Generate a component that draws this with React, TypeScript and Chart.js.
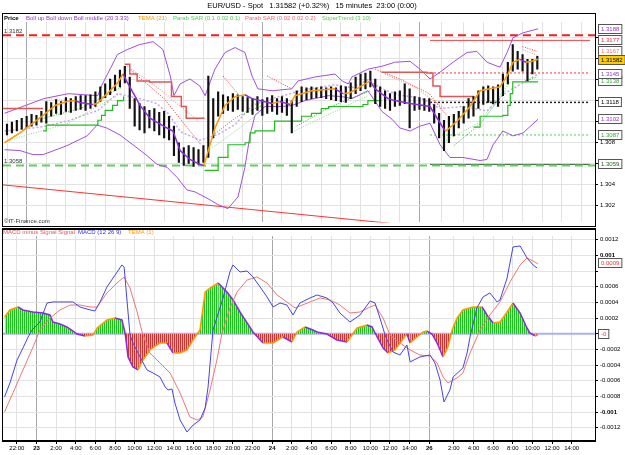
import React, { useEffect, useRef } from "react";
import { Chart, registerables } from "chart.js";
Chart.register(...registerables);

const FONT = '"Liberation Sans", Arial, sans-serif';
const X_MIN = -1.63;
const X_MAX = 239.5;
const TOP_MIN = 1.30038;
const TOP_MAX = 1.31945;
const BOT_MIN = -0.00137;
const BOT_MAX = 0.001247;

const TITLE = "EUR/USD - Spot   1.31582 (+0.32%)   15 minutes  23:00 (0:00)";

// x axis (15-minute bar index)
const xTickPos = [4, 12, 20, 28, 36, 44, 52, 60, 68, 76, 84, 92, 100, 108, 116, 124, 132, 140, 148, 156, 164, 172, 182, 190, 198, 206, 214, 222, 230];
const xTickLabels = ["22:00", "23", "2:00", "4:00", "6:00", "8:00", "10:00", "12:00", "14:00", "16:00", "18:00", "20:00", "22:00", "24", "2:00", "4:00", "6:00", "8:00", "10:00", "12:00", "14:00", "26", "2:00", "4:00", "6:00", "8:00", "10:00", "12:00", "14:00"];
const dayTicks = [12, 108, 172];

const topTickVals = [1.302, 1.304, 1.306, 1.308, 1.31, 1.312, 1.314, 1.316, 1.318];
const topTickLabels = ["1.302", "1.304", "", "1.308", "", "", "", "", ""];
const botTickVals = [0.0012, 0.001, 0.0008, 0.0006, 0.0004, 0.0002, 0, -0.0002, -0.0004, -0.0006, -0.0008, -0.001, -0.0012];
const botTickLabels = ["0.0012", "0.001", "", "0.0006", "0.0004", "0.0002", "", "-0.0002", "-0.0004", "-0.0006", "-0.0008", "-0.001", "-0.0012"];

// price bars, one per 30 minutes (every 2nd 15-min index)
const barHigh = [
  1.30973, 1.30992, 1.3101, 1.31029, 1.31048, 1.31066, 1.31057, 1.31095, 1.31188, 1.31179,
  1.31207, 1.31188, 1.31225, 1.31216, 1.31235, 1.31244, 1.31244, 1.31253, 1.31281, 1.31328,
  1.31356, 1.31403, 1.3144, 1.31487, 1.31524, 1.31422, 1.31216, 1.31169, 1.31141, 1.31104,
  1.31122, 1.31085, 1.31095, 1.31048, 1.30954, 1.30796, 1.30749, 1.30768, 1.30749, 1.3073,
  1.30768, 1.31431, 1.31216, 1.31281, 1.31253, 1.31235, 1.31263, 1.31253, 1.31235, 1.31225,
  1.31216, 1.31235, 1.31207, 1.31225, 1.31244, 1.31216, 1.31235, 1.31216, 1.31197, 1.31291,
  1.31328, 1.31319, 1.31328, 1.31319, 1.31328, 1.31319, 1.31328, 1.31319, 1.31337, 1.31328,
  1.31365, 1.31422, 1.3145, 1.31459, 1.31478, 1.31403, 1.31328, 1.31291, 1.31263, 1.31281,
  1.31291, 1.31356, 1.31309, 1.31235, 1.31225, 1.31216, 1.31216, 1.3116, 1.31076, 1.3101,
  1.31048, 1.31066, 1.31095, 1.31141, 1.31216, 1.31235, 1.31291, 1.31328, 1.31337, 1.31328,
  1.31347, 1.3145, 1.31562, 1.3173, 1.31665, 1.31636, 1.3159, 1.3159, 1.31618,
];
const barLow = [
  1.3087, 1.30889, 1.30908, 1.30926, 1.30936, 1.30954, 1.30964, 1.30992, 1.30982, 1.31048,
  1.31076, 1.31066, 1.31095, 1.31085, 1.31104, 1.31113, 1.31104, 1.31122, 1.31141, 1.31188,
  1.31225, 1.31253, 1.31291, 1.31328, 1.31365, 1.31122, 1.30954, 1.30917, 1.30889, 1.30936,
  1.30908, 1.3087, 1.30843, 1.30824, 1.30674, 1.30609, 1.3058, 1.306, 1.30571, 1.3059,
  1.30609, 1.30656, 1.30843, 1.31048, 1.31076, 1.31104, 1.31095, 1.31113, 1.31095, 1.31085,
  1.31066, 1.31104, 1.31057, 1.31076, 1.31095, 1.31066, 1.31085, 1.31057, 1.30889, 1.31141,
  1.31188, 1.31207, 1.31216, 1.31225, 1.31225, 1.31216, 1.31207, 1.31197, 1.31188, 1.31179,
  1.31216, 1.31263, 1.31291, 1.31309, 1.31328, 1.31169, 1.31141, 1.31122, 1.31104, 1.31141,
  1.31151, 1.31169, 1.30936, 1.31104, 1.31113, 1.31104, 1.31095, 1.30982, 1.30843, 1.30721,
  1.30796, 1.30861, 1.30936, 1.30982, 1.31029, 1.31048, 1.31122, 1.3116, 1.31179, 1.31169,
  1.31141, 1.31244, 1.31356, 1.31478, 1.31496, 1.31478, 1.31384, 1.3145, 1.31496,
];

type P = [number, number];

const bollUp: P[] = [[-1, 1.31076], [15, 1.31216], [25, 1.31263], [37, 1.31244], [38.5, 1.31337], [45, 1.31636], [49, 1.31683], [54, 1.3173], [59.5, 1.31758], [63.5, 1.31683], [66.5, 1.31431], [68, 1.31244], [70.5, 1.31356], [74.5, 1.31403], [78.5, 1.31337], [80.7, 1.31244], [84.7, 1.31496], [88.8, 1.31655], [92.9, 1.31702], [96.9, 1.31655], [99.8, 1.31431], [102.2, 1.31309], [108, 1.31291], [116, 1.31309], [118.5, 1.31384], [125.5, 1.31422], [133.6, 1.3145], [136.5, 1.31384], [139, 1.31356], [140.5, 1.31422], [147, 1.31496], [152.7, 1.31524], [158, 1.31562], [164.2, 1.31571], [168.2, 1.31496], [172.3, 1.31403], [176.4, 1.31468], [181.7, 1.31562], [187.4, 1.31655], [191.4, 1.31665], [195.5, 1.31562], [200.8, 1.31515], [203.7, 1.31655], [206.1, 1.31795], [210.2, 1.31842], [216.3, 1.3188]];
const bollDown: P[] = [[-1, 1.3073], [5.3, 1.30721], [10.6, 1.30683], [14.7, 1.30683], [24.4, 1.30768], [32.6, 1.30861], [36.7, 1.30964], [40.7, 1.30936], [46, 1.3087], [51.3, 1.30777], [57, 1.30674], [61.1, 1.3059], [65.2, 1.30562], [69.2, 1.30468], [73.3, 1.30347], [76.6, 1.30328], [81.9, 1.30263], [86, 1.30207], [90, 1.30169], [94.1, 1.30281], [96.9, 1.30562], [99, 1.3087], [101, 1.31057], [105.1, 1.31141], [112, 1.31141], [116.1, 1.31151], [121.4, 1.31197], [130.8, 1.31244], [136.5, 1.31235], [140.5, 1.31216], [147, 1.31291], [152.7, 1.31095], [156.8, 1.3102], [160.1, 1.30936], [164.2, 1.30908], [168.2, 1.30954], [172.3, 1.30982], [176.4, 1.30777], [180.4, 1.30656], [185.7, 1.30656], [192.7, 1.30627], [195.5, 1.30637], [198, 1.30777], [202, 1.30908], [206.1, 1.30861], [210.2, 1.30889], [216.3, 1.3102]];
const bollMid: P[] = [[-1, 1.30907], [15, 1.3095], [25, 1.31006], [37, 1.31104], [45, 1.31263], [54, 1.31216], [61, 1.31169], [66, 1.31066], [70.5, 1.30903], [78.6, 1.30819], [86, 1.30875], [92.9, 1.30968], [99.8, 1.31151], [108, 1.31216], [121, 1.313], [133.6, 1.31347], [140.5, 1.31319], [147, 1.31394], [152.7, 1.31309], [160, 1.31249], [168.2, 1.31225], [176.4, 1.31122], [185.7, 1.31141], [195.5, 1.31099], [203.7, 1.31281], [210.2, 1.31365], [216.3, 1.3145]];
const tema: P[] = [[-1, 1.30796], [5.3, 1.30889], [10.6, 1.30982], [14.7, 1.31057], [19.6, 1.31151], [24.4, 1.31188], [27.7, 1.31197], [29.7, 1.31179], [35, 1.3116], [36.7, 1.31169], [40.7, 1.31263], [44.8, 1.31356], [47.3, 1.3145], [48.9, 1.31375], [54.2, 1.31151], [58.2, 1.31029], [65.2, 1.30936], [67.6, 1.30908], [70.5, 1.30721], [74.5, 1.30637], [78.6, 1.3059], [80.2, 1.3058], [84.7, 1.30936], [88.8, 1.31151], [92.9, 1.31235], [96.9, 1.31253], [99.8, 1.31216], [108, 1.31169], [111.2, 1.31188], [115.3, 1.3116], [117.3, 1.31244], [124.2, 1.31291], [133.6, 1.31309], [136.9, 1.31263], [139.7, 1.31272], [147.9, 1.31384], [149.9, 1.31309], [155.2, 1.31216], [158, 1.31197], [164.2, 1.31169], [172.3, 1.31141], [175.2, 1.31029], [178.4, 1.30908], [179.2, 1.30917], [183.3, 1.31001], [188.6, 1.31141], [192.7, 1.31291], [196.7, 1.31309], [200.8, 1.31328], [203.7, 1.31431], [206.1, 1.31562], [209, 1.3159], [211.4, 1.31562], [213.8, 1.31571], [216.3, 1.3159]];

const sarFastUp: P[][] = [
  [[15, 1.31029], [30, 1.31122], [47, 1.31328]],
  [[84, 1.3087], [94, 1.31048], [104, 1.31151]],
  [[118, 1.30954], [132, 1.31141], [148, 1.31291]],
  [[182, 1.30768], [193, 1.30982], [203, 1.31291]],
  [[211, 1.31384], [216, 1.31422]],
];
const sarSlowUp: P[][] = [
  [[0, 1.30814], [25, 1.30982], [46, 1.31263]],
  [[82, 1.30721], [92, 1.30889], [104, 1.31104]],
  [[117, 1.30908], [132, 1.31076], [147, 1.31244]],
  [[177, 1.30796], [192, 1.30982], [205, 1.31375]],
];
const sarFastDown: P[][] = [
  [[50, 1.31496], [64, 1.31216], [79, 1.30777]],
  [[88, 1.31431], [95, 1.31235]],
  [[106, 1.31431], [116, 1.31309]],
  [[150, 1.31496], [160, 1.31403], [172, 1.31263], [179, 1.31057]],
  [[210, 1.31711], [216, 1.31665]],
];
const sarSlowDown: P[][] = [
  [[17, 1.31216], [25, 1.31197]],
  [[49, 1.31524], [62, 1.31309], [78, 1.31001]],
  [[154, 1.3145], [166, 1.31328], [178, 1.31122]],
  [[210, 1.31683], [216, 1.31627]],
];
const superUp: P[][] = [
  [[14.7, 1.30908], [16, 1.30964], [36, 1.30964], [37, 1.3101], [38.5, 1.31057], [40, 1.31104], [43, 1.31151], [45, 1.31197], [47.5, 1.31235]],
  [[80.5, 1.30534], [86, 1.30656], [90, 1.30777], [97, 1.30796], [99, 1.30889], [101, 1.30908], [109, 1.31001], [120, 1.31048], [124, 1.31076], [128, 1.31122], [131, 1.31141], [145, 1.3116], [147, 1.31197], [152.5, 1.31197]],
  [[190, 1.30945], [192.7, 1.31048], [202, 1.31057], [204, 1.31151], [205, 1.31263], [206, 1.31375], [216.3, 1.31375]],
];
const superDown: P[][] = [
  [[-2, 1.31122], [14.7, 1.31122]],
  [[48, 1.31543], [50, 1.3145], [53, 1.31384], [58, 1.31375], [65, 1.31375], [67, 1.31235], [71, 1.31141], [73, 1.31029], [80.5, 1.31029]],
  [[152.5, 1.31468], [171, 1.31459], [173.5, 1.31337], [176.4, 1.31235], [190, 1.31216]],
];
const trendLine: P[] = [[-2, 1.30396], [160, 1.3002]];
const levelStart = 172.3;
const levelEnd = 237.5;

const macdLine: P[] = [[-1, -0.000808], [1.2, -0.000629], [4.1, -0.000336], [6.5, -0.000183], [8.6, -0.000042], [10.2, 0.000047], [13.4, 0.000149], [16.3, 0.000392], [18.7, 0.000405], [24.4, 0.000405], [26.9, 0.000405], [29.7, 0.000341], [33.8, 0.000303], [35.8, 0.00029], [37.9, 0.000405], [40.7, 0.000596], [43.2, 0.000711], [46.8, 0.000877], [47.7, 0.000851], [50.1, -0.000017], [51.3, -0.000119], [54.2, -0.000297], [57, -0.000463], [59.5, -0.000502], [62.3, -0.000553], [64.4, -0.00068], [65.6, -0.000719], [67.2, -0.000706], [68.4, -0.000885], [70.5, -0.001102], [73.3, -0.001255], [75.8, -0.001166], [78.6, -0.001102], [80.7, -0.000949], [81.9, -0.00068], [83.9, 0.000047], [88, 0.000456], [90.8, 0.000788], [92, 0.000877], [94.9, 0.000788], [97.8, 0.0008], [100.2, 0.000724], [103.1, 0.000596], [105.9, 0.000469], [108.4, 0.000341], [111.2, 0.000392], [114, 0.000366], [116.5, 0.000239], [119.3, 0.000392], [123.4, 0.000456], [126.3, 0.000494], [130.3, 0.000456], [132.8, 0.000392], [135.6, 0.000264], [139.7, 0.000149], [143.8, 0.000239], [147.9, 0.000417], [149.9, 0.000392], [151.9, 0.0002], [154, -0.000017], [154.8, -0.00008], [157.2, -0.000234], [160.1, -0.000272], [162.9, -0.000144], [164.2, -0.000361], [168.2, -0.000297], [172.3, -0.000272], [174.3, -0.000374], [176.4, -0.000591], [178, -0.000872], [180.4, -0.000719], [181.7, -0.000553], [185.7, -0.000438], [187.4, -0.000246], [188.6, -0.000042], [191.4, 0.000328], [193.9, 0.000469], [196.7, 0.00052], [199.6, 0.000405], [200.8, 0.00043], [203.7, 0.000711], [206.1, 0.001107], [209, 0.00112], [211.8, 0.000966], [214.3, 0.000877], [215.9, 0.000839]];
const signalLine: P[] = [[-1, -0.001], [2.4, -0.000757], [6.5, -0.000463], [10.6, -0.00017], [13.4, 0.000047], [17.5, 0.0002], [21.6, 0.000303], [25.7, 0.000366], [29.7, 0.000366], [33.8, 0.000341], [36.7, 0.000341], [40.7, 0.00052], [44.8, 0.000647], [47.7, 0.000724], [50.1, 0.000583], [53, 0.000277], [55, 0.000022], [58.2, -0.000246], [62.3, -0.000374], [66.4, -0.000502], [70.5, -0.000757], [74.5, -0.001063], [77.4, -0.001102], [79.8, -0.001063], [82.7, -0.000719], [85.5, -0.000336], [87.6, 0.000009], [90.8, 0.000328], [93.7, 0.000532], [97.8, 0.000686], [101.8, 0.000724], [105.9, 0.000647], [110, 0.000494], [114, 0.000405], [117.3, 0.000328], [123.4, 0.000405], [127.5, 0.000456], [131.6, 0.00043], [135.6, 0.000366], [139.7, 0.000264], [143.8, 0.000277], [147.9, 0.000341], [149.9, 0.000366], [153.2, 0.0002], [156, -0.000017], [160.1, -0.000119], [164.2, -0.000208], [168.2, -0.000272], [172.3, -0.000285], [175.2, -0.000374], [177.6, -0.000553], [179.6, -0.000629], [183.3, -0.000566], [185.7, -0.000502], [188.6, -0.000246], [192.7, 0.000047], [196.7, 0.000239], [200.8, 0.000405], [204.9, 0.00066], [209, 0.000877], [211.8, 0.000966], [214.3, 0.000928], [216.3, 0.00089]];
const histLine: P[] = [[-1, 0.000213], [1.2, 0.000303], [4.5, 0.000341], [6.5, 0.000303], [10.6, 0.000277], [14.7, 0.000264], [17.5, 0.000239], [18.7, 0.000149], [21.6, 0.000124], [24.4, 0.000086], [26.9, 0.000034], [28.5, -0.000004], [31.8, -0.000029], [35, -0.000017], [36.7, 0.000073], [40.7, 0.000175], [44, 0.0002], [46.8, 0.000175], [48.1, 0.000009], [49.3, -0.000297], [51.3, -0.000425], [53.4, -0.000463], [55.4, -0.000336], [58.2, -0.000208], [62.3, -0.000119], [65.2, -0.000119], [67.6, -0.000246], [70.5, -0.000246], [73.3, -0.000208], [75.8, -0.00008], [78.6, 0.000047], [80.7, 0.000532], [82.7, 0.000583], [86, 0.000647], [89.6, 0.000532], [92.1, 0.00043], [94.9, 0.000277], [97.8, 0.000137], [100.2, 0.000022], [104.3, -0.000119], [108.4, -0.000119], [112.4, -0.000042], [116.1, -0.000106], [118.1, 0.000022], [121.4, 0.000086], [124.6, 0.000047], [126.3, 0.000022], [130.3, -0.000004], [134.4, -0.00008], [138.5, -0.000106], [140.5, -0.000017], [142.6, 0.000073], [146.6, 0.000111], [148.7, 0.000086], [149.9, 0.000009], [153.2, -0.000183], [155.2, -0.000246], [158, -0.000208], [160.1, -0.000119], [162.9, -0.000004], [164.2, -0.000119], [167, -0.000042], [169.5, 0.000022], [171.1, 0.000034], [173.1, -0.000004], [175.2, -0.000119], [177.6, -0.000297], [179.6, -0.00017], [181.3, 0.000047], [183.3, 0.0002], [185.7, 0.000303], [189.8, 0.000341], [193.5, 0.000341], [195.5, 0.000239], [198, 0.000137], [200.8, 0.000149], [203.7, 0.000277], [206.1, 0.000392], [209, 0.000264], [211.8, 0.000073], [213, 0.000009], [215, -0.000029], [216.3, -0.000017]];

const topBoxes = [
  { v: 1.3188, t: "1.3188", c: "#9933cc", bg: "#fff" },
  { v: 1.3177, t: "1.3177", c: "#ee3333", bg: "#fff" },
  { v: 1.3167, t: "1.3167", c: "#ff7777", bg: "#fff" },
  { v: 1.31582, t: "1.31582", c: "#000", bg: "#ffcc00" },
  { v: 1.3138, t: "1.3138", c: "#33aa33", bg: "#fff" },
  { v: 1.3145, t: "1.3145", c: "#9933cc", bg: "#fff" },
  { v: 1.3118, t: "1.3118", c: "#000", bg: "#fff" },
  { v: 1.3102, t: "1.3102", c: "#9933cc", bg: "#fff" },
  { v: 1.3087, t: "1.3087", c: "#33aa33", bg: "#fff" },
  { v: 1.3059, t: "1.3059", c: "#226622", bg: "#fff" },
];
const botBoxes = [
  { v: 0.0009, t: "0.0009", c: "#ee3333", bg: "#fff" },
  { v: 0, t: "-0", c: "#ee3333", bg: "#fff" },
];
const topLegend = [
  { t: "Price", c: "#000", b: true, x: 4 },
  { t: "Boll up Boll down Boll middle (20 3.33)", c: "#9933cc", b: false, x: 26 },
  { t: "TEMA (21)", c: "#ff9900", b: false, x: 138 },
  { t: "Parab SAR (0.1 0.02 0.1)", c: "#55cc55", b: false, x: 173 },
  { t: "Parab SAR (0.02 0.02 0.2)", c: "#ff6666", b: false, x: 245 },
  { t: "SuperTrend (3 10)", c: "#55cc55", b: false, x: 322 },
];
const botLegend = [
  { t: "MACD minus Signal Signal", c: "#ee5555", x: 3 },
  { t: "MACD (12 26 9)", c: "#3333ee", x: 78 },
  { t: "TEMA (1)", c: "#ff9900", x: 128 },
];

const ORANGE = "#ff9900";
const VIOLET = "#8a2be2";

const pts = (a: P[]) => a.map(([x, y]) => ({ x, y }));
const segs = (s: P[][]) => {
  const out: any[] = [];
  s.forEach((seg, k) => {
    if (k) out.push({ x: seg[0][0], y: null });
    seg.forEach(([x, y]) => out.push({ x, y }));
  });
  return out;
};
const line = (data: any[], color: string, width: number, order: number, extra: any = {}) => ({
  type: "line",
  data,
  borderColor: color,
  borderWidth: width,
  pointRadius: 0,
  fill: false,
  tension: 0,
  spanGaps: false,
  order,
  ...extra,
});
const level = (v: number, from: number, to: number) => [{ x: from, y: v }, { x: to, y: v }];
const upDown = {
  borderColor: (c: any) => (c.p1.parsed.y >= c.p0.parsed.y ? ORANGE : VIOLET),
};

function drawBox(ctx: CanvasRenderingContext2D, yc: number, b: any) {
  ctx.font = `6px ${FONT}`;
  const w = Math.max(ctx.measureText(b.t).width + 5, 9);
  ctx.fillStyle = b.bg;
  ctx.fillRect(598.5, Math.round(yc) - 4.5, w, 9);
  ctx.strokeStyle = "#555";
  ctx.lineWidth = 1;
  ctx.strokeRect(598.5, Math.round(yc) - 4.5, w, 9);
  ctx.fillStyle = b.c;
  ctx.textAlign = "left";
  ctx.textBaseline = "middle";
  ctx.fillText(b.t, 601, Math.round(yc) + 0.5);
}

const whiteBg = {
  id: "whiteBg",
  beforeDraw(chart: any) {
    const c = chart.ctx;
    c.save();
    c.fillStyle = "#fff";
    c.fillRect(0, 0, chart.width, chart.height);
    c.restore();
  },
};

const topDeco = {
  id: "topDeco",
  afterDraw(chart: any) {
    const ctx: CanvasRenderingContext2D = chart.ctx;
    const y = chart.scales.y;
    ctx.save();
    ctx.strokeStyle = "#000";
    ctx.lineWidth = 1;
    ctx.strokeRect(2.5, 13.5, 593, 213);
    ctx.fillStyle = "#000";
    ctx.font = `7.5px ${FONT}`;
    ctx.textAlign = "center";
    ctx.textBaseline = "middle";
    ctx.fillText(TITLE, 312, 6);
    ctx.textAlign = "left";
    for (const l of topLegend) {
      ctx.font = `${l.b ? "bold " : ""}6px ${FONT}`;
      ctx.fillStyle = l.c;
      ctx.fillText(l.t, l.x, 18.5);
    }
    ctx.font = `6px ${FONT}`;
    ctx.fillStyle = "#333";
    ctx.fillText("1.3182", 4, y.getPixelForValue(1.3182) - 4);
    ctx.fillText("1.3058", 4, y.getPixelForValue(1.3058) - 4);
    ctx.fillText("\u00a9IT-Finance.com", 4, 221.5);
    for (const b of topBoxes) drawBox(ctx, y.getPixelForValue(b.v), b);
    ctx.restore();
  },
};

const botDeco = {
  id: "botDeco",
  afterDraw(chart: any) {
    const ctx: CanvasRenderingContext2D = chart.ctx;
    const y = chart.scales.y;
    ctx.save();
    ctx.strokeStyle = "#000";
    ctx.lineWidth = 1;
    ctx.strokeRect(2.5, 1.5, 593, 212);
    ctx.lineWidth = 2;
    ctx.beginPath();
    ctx.moveTo(2, 1);
    ctx.lineTo(596, 1);
    ctx.stroke();
    ctx.textAlign = "left";
    ctx.textBaseline = "middle";
    ctx.font = `6px ${FONT}`;
    for (const l of botLegend) {
      ctx.fillStyle = l.c;
      ctx.fillText(l.t, l.x, 4.5);
    }
    for (const b of botBoxes) drawBox(ctx, y.getPixelForValue(b.v), b);
    ctx.restore();
  },
};

function stripe(c1: string, c2: string) {
  const cv = document.createElement("canvas");
  cv.width = 2;
  cv.height = 1;
  const g = cv.getContext("2d")!;
  g.fillStyle = c2;
  g.fillRect(0, 0, 2, 1);
  g.fillStyle = c1;
  g.fillRect(0, 0, 1, 1);
  return g.createPattern(cv, "repeat")!;
}

const xScale = (showTicks: boolean) => ({
  type: "linear",
  min: X_MIN,
  max: X_MAX,
  offset: false,
  afterBuildTicks: (s: any) => {
    s.ticks = xTickPos.map((v) => ({ value: v }));
  },
  afterFit: (s: any) => {
    s.height = showTicks ? 14 : 0;
  },
  ticks: {
    display: showTicks,
    autoSkip: false,
    maxRotation: 0,
    padding: 1,
    color: "#000",
    callback: (_v: any, i: number) => xTickLabels[i],
    font: (c: any) => ({ family: FONT, size: 6, weight: c.tick && dayTicks.includes(c.tick.value) ? "bold" : "normal" }),
  },
  grid: {
    color: (c: any) => (c.tick && dayTicks.includes(c.tick.value) ? "#a8a8a8" : "#e2e2e2"),
    drawTicks: showTicks,
    tickLength: 3,
    tickColor: "#000",
  },
  border: { display: showTicks, color: "#000", width: 1.5 },
});

const yScale = (min: number, max: number, vals: number[], labels: string[], boldVal?: number) => ({
  type: "linear",
  position: "right",
  min,
  max,
  afterBuildTicks: (s: any) => {
    s.ticks = vals.map((v) => ({ value: v }));
  },
  afterFit: (s: any) => {
    s.width = 30;
  },
  ticks: {
    autoSkip: false,
    padding: 2,
    color: "#000",
    callback: (_v: any, i: number) => labels[i],
    font: (c: any) => ({
      family: FONT,
      size: 6,
      weight: boldVal !== undefined && c.tick && Math.abs(Math.abs(c.tick.value) - boldVal) < 1e-9 ? "bold" : "normal",
    }),
  },
  grid: { color: "#e2e2e2", tickColor: "#000", tickLength: 3 },
  border: { display: true, color: "#000" },
});

export default function App() {
  const topRef = useRef<HTMLCanvasElement>(null);
  const botRef = useRef<HTMLCanvasElement>(null);

  useEffect(() => {
    const bars = barLow.map((lo, k) => ({ x: k * 2, y: [lo, barHigh[k]] }));
    const top = new Chart(topRef.current!, {
      type: "line",
      data: {
        datasets: [
          line(pts(tema), ORANGE, 1.5, 0, { segment: upDown }),
          {
            type: "bar",
            data: bars,
            backgroundColor: "#111",
            borderWidth: 0,
            barThickness: 1.5,
            order: 1,
          } as any,
          line(segs(superUp), "#22bb22", 1.2, 2, { stepped: true }),
          line(segs(superDown), "#e05555", 1.5, 2, { stepped: true }),
          line(segs(sarFastUp), "#22bb22", 1, 3, { borderDash: [1, 1.5] }),
          line(segs(sarSlowUp), "#8ad88a", 1, 3, { borderDash: [1, 1.5] }),
          line(segs(sarFastDown), "#ee3333", 1, 3, { borderDash: [1, 1.5] }),
          line(segs(sarSlowDown), "#f5a0a0", 1.2, 3, { borderDash: [1, 1.5] }),
          line(pts(bollUp), "#a050e0", 1, 4),
          line(pts(bollDown), "#a050e0", 1, 4),
          line(pts(bollMid), "#c9a6ef", 1.5, 4, { borderDash: [2, 2] }),
          line(level(1.3182, X_MIN, X_MAX), "#ee2222", 2, 5, { borderDash: [8, 5] }),
          line(level(1.3058, X_MIN, X_MAX), "#66cc66", 2, 5, { borderDash: [8, 5] }),
          line(level(1.3177, levelStart, levelEnd), "#ee4444", 1, 5),
          line(level(1.3146, levelStart, levelEnd), "#ee3333", 1, 5, { borderDash: [2, 2] }),
          line(level(1.3118, levelStart, levelEnd), "#222", 1.5, 5, { borderDash: [2, 2] }),
          line(level(1.3087, levelStart, levelEnd), "#55cc55", 1, 5, { borderDash: [2, 2] }),
          line(level(1.3059, levelStart, levelEnd), "#336633", 1, 5),
          line(pts(trendLine), "#ff3333", 1, 6),
        ] as any,
      },
      options: {
        responsive: false,
        animation: false,
        events: [],
        layout: { padding: { left: 3, top: 22, right: 0, bottom: 2 } },
        plugins: { legend: { display: false }, tooltip: { enabled: false } },
        scales: {
          x: xScale(false),
          y: yScale(TOP_MIN, TOP_MAX, topTickVals, topTickLabels),
        } as any,
      },
      plugins: [whiteBg, topDeco],
    });

    const greenPat = stripe("#22bb22", "#a8e6a8");
    const redPat = stripe("#cc3333", "#f2b0b0");
    const bot = new Chart(botRef.current!, {
      type: "line",
      data: {
        datasets: [
          line(pts(macdLine), "#4444ee", 1, 0),
          line(pts(signalLine), "#ee7777", 1, 1),
          line(level(0, X_MIN, X_MAX), "#aab0ff", 2, 3),
          line(pts(histLine), ORANGE, 1.5, 2, {
            segment: upDown,
            fill: { target: { value: 0 }, above: greenPat, below: redPat },
          }),
        ] as any,
      },
      options: {
        responsive: false,
        animation: false,
        events: [],
        layout: { padding: { left: 3, top: 8, right: 0, bottom: 0 } },
        plugins: { legend: { display: false }, tooltip: { enabled: false } },
        scales: {
          x: xScale(true),
          y: yScale(BOT_MIN, BOT_MAX, botTickVals, botTickLabels, 0.001),
        } as any,
      },
      plugins: [whiteBg, botDeco],
    });
    return () => {
      top.destroy();
      bot.destroy();
    };
  }, []);

  return (
    <div style={{ position: "absolute", left: 0, top: 0, width: 625, height: 455, background: "#fff" }}>
      <canvas ref={topRef} width={625} height={228} style={{ position: "absolute", left: 0, top: 0, width: 625, height: 228 }} />
      <canvas ref={botRef} width={625} height={227} style={{ position: "absolute", left: 0, top: 228, width: 625, height: 227 }} />
    </div>
  );
}
